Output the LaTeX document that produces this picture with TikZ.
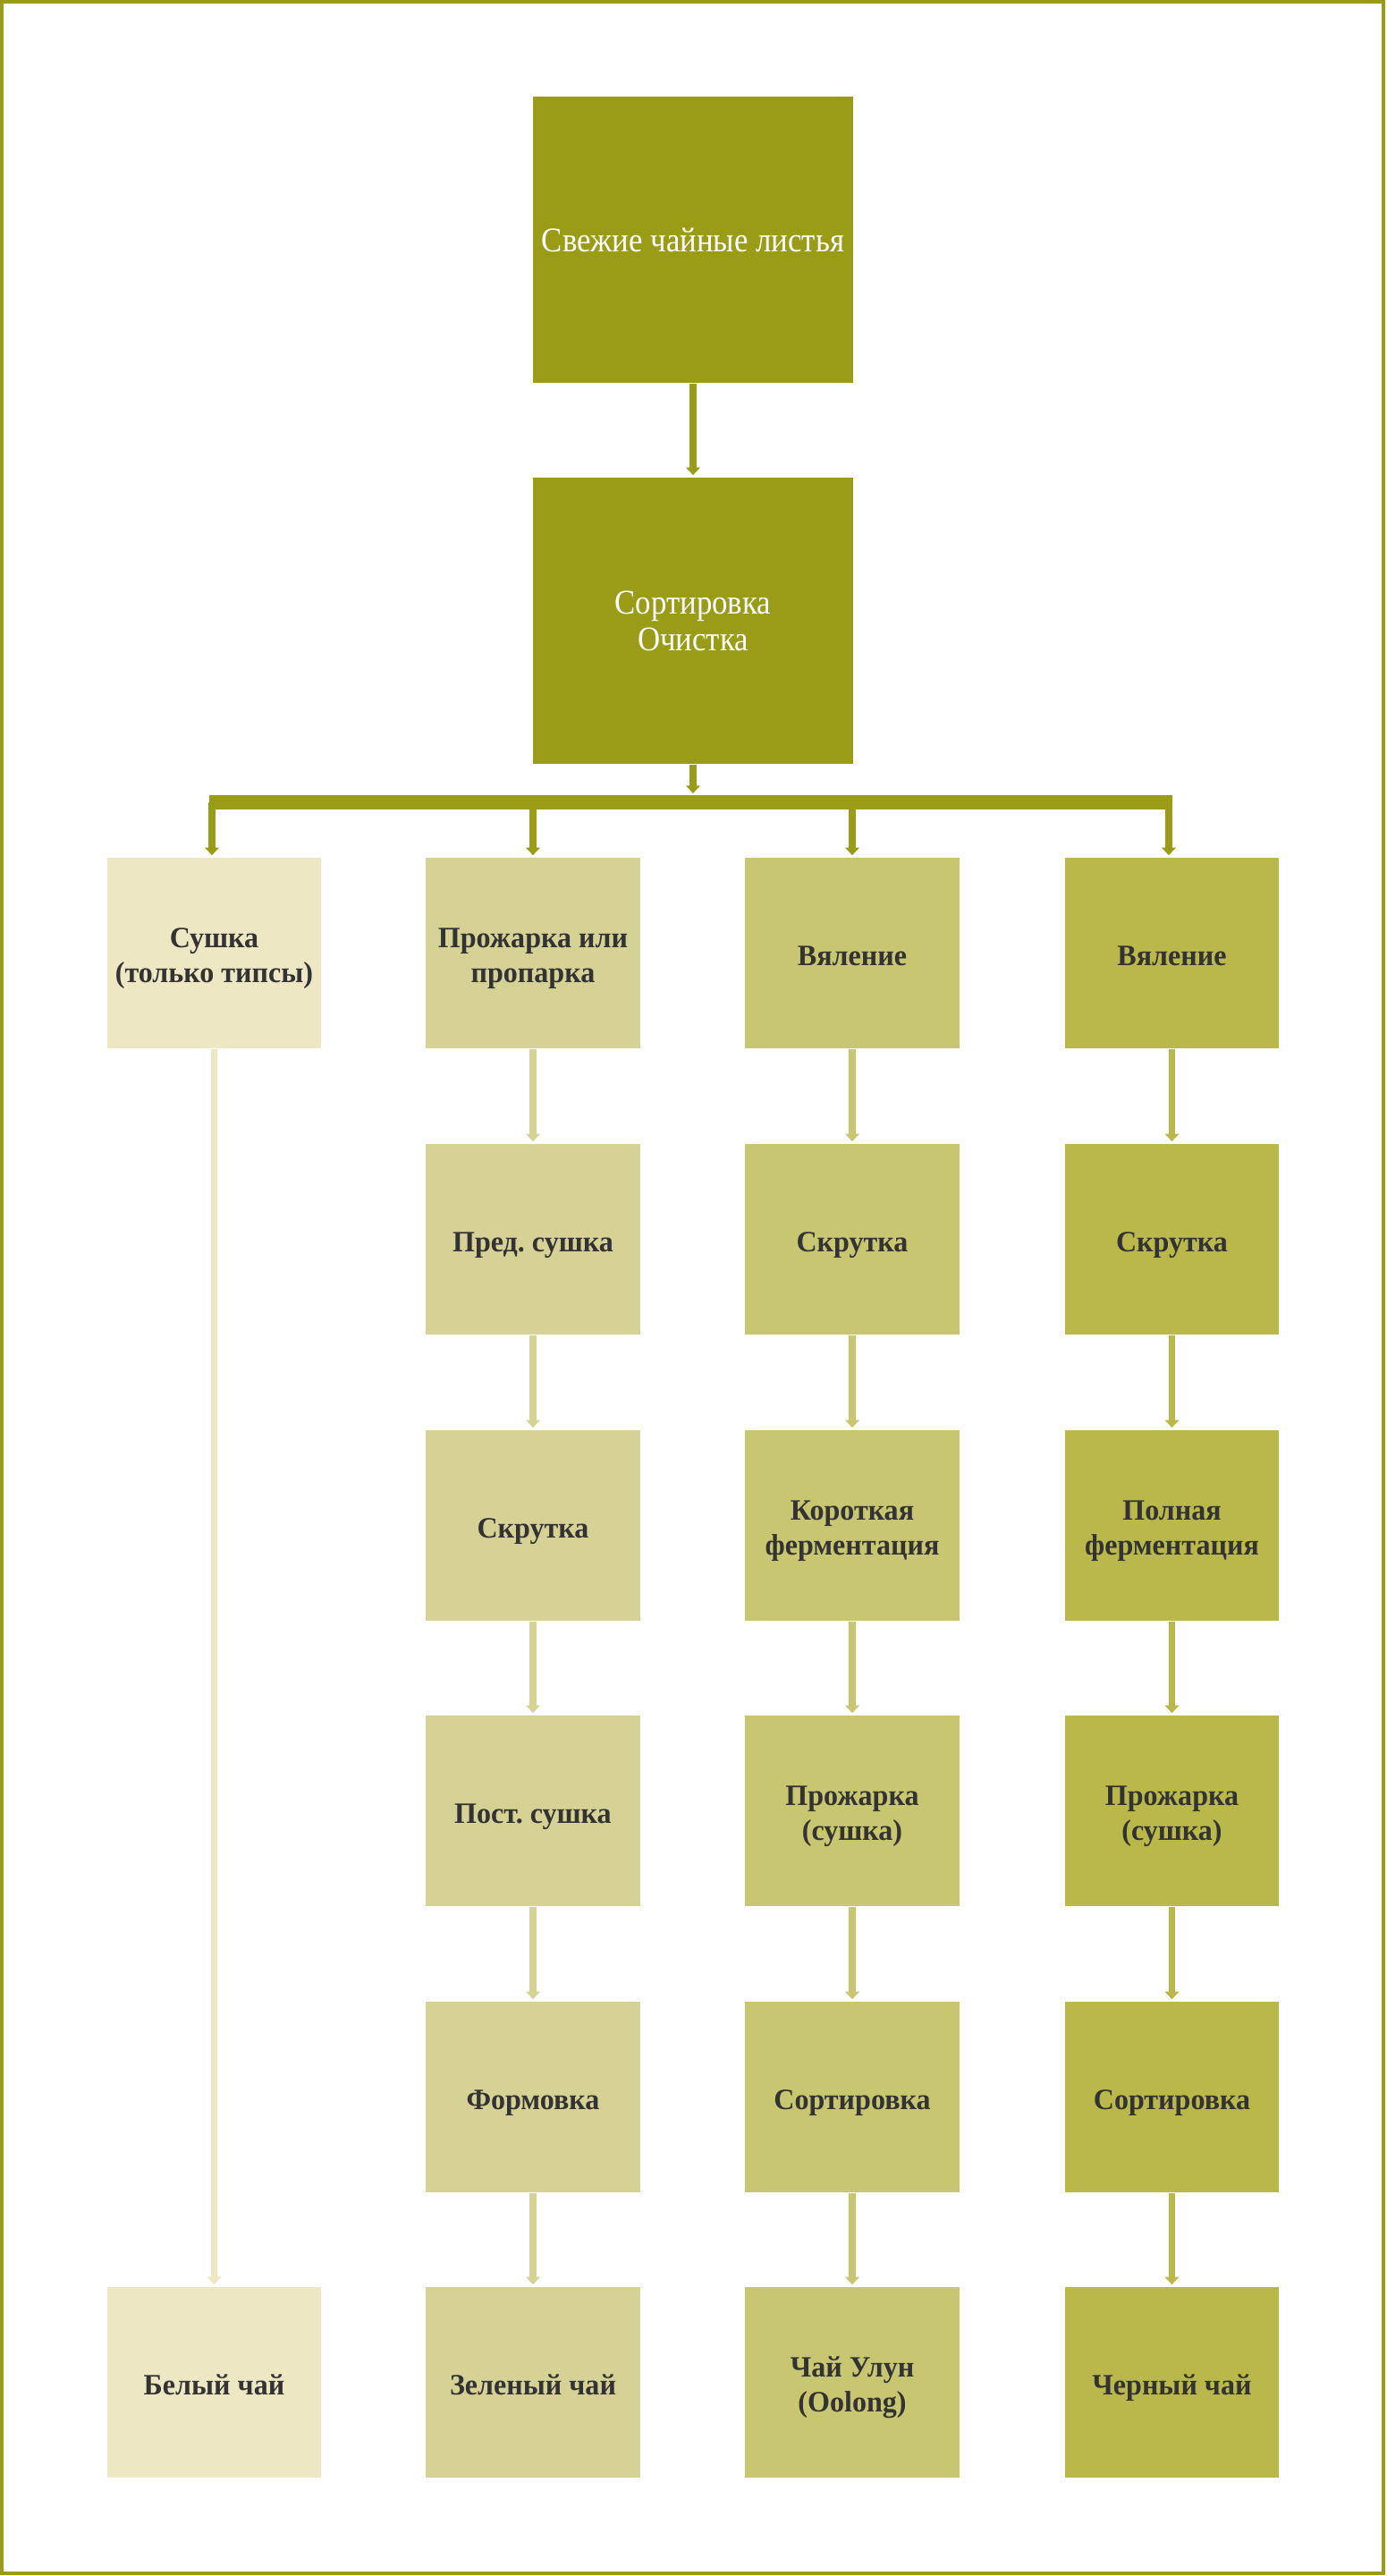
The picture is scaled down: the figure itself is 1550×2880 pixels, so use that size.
\documentclass[tikz,border=0pt]{standalone}
\usepackage{fontspec}
\setmainfont{Liberation Serif}
\newfontfamily\topfont{Liberation Serif}[FakeStretch=0.9]
\newfontfamily\colfont{Liberation Serif}[FakeStretch=0.97]
\frenchspacing
\usetikzlibrary{arrows.meta}
\definecolor{olive}{HTML}{9A9C17}
\definecolor{cA}{HTML}{EDE8C3}
\definecolor{cB}{HTML}{D6D296}
\definecolor{cC}{HTML}{C8C670}
\definecolor{cD}{HTML}{BAB84A}
\definecolor{txt}{HTML}{333333}
\newcommand\boxtext[1]{\raisebox{-1.7pt}[\height][\depth]{\begin{tabular}{@{}c@{}}#1\end{tabular}}}
\tikzset{
  topbox/.style={fill=olive, draw=none, minimum width=3.57cm, minimum height=3.20cm, text=white, align=center, inner sep=0pt, font=\topfont\fontsize{11pt}{11.7pt}\selectfont},
  colbox/.style={fill=#1, draw=none, minimum width=2.39cm, minimum height=2.13cm, text=txt, inner sep=0pt, font=\colfont\fontsize{9.4pt}{11.1pt}\selectfont\bfseries},
  arr/.style={draw=#1, line width=2pt, -{Triangle[width=4.4pt,length=2.4pt]}, shorten >=0.6pt},
}
\begin{document}
\begin{tikzpicture}[x=0.01cm,y=-0.01cm]
\useasboundingbox (0,0) rectangle (1550,2880);
\draw[olive, line width=0.9pt] (2,2) rectangle (1547,2877);
\node[topbox] (t1) at (775,268) {Свежие чайные листья};
\node[topbox] (t2) at (775,694) {Сортировка\\Очистка};
\draw[arr=olive] (t1.south) -- (t2.north);
% bar
\coordinate (bl) at (234,897);
\coordinate (br) at (1311,897);
\coordinate (bt) at (775,889);
\draw[olive, line width=4.55pt] (bl) -- (br);
\draw[arr=olive] (t2.south) -- (bt);
% rows
\def\rA{1065.5}\def\rB{1385.5}\def\rC{1705.5}\def\rD{2024.5}\def\rE{2344.5}\def\rF{2663.5}
% col 1
\node[colbox=cA] (a0) at (239.5,\rA) {\boxtext{Сушка\\(только типсы)}};
\node[colbox=cA] (a5) at (239.5,\rF) {\boxtext{Белый чай}};
% col 2
\node[colbox=cB] (b0) at (596,\rA) {\boxtext{Прожарка или\\пропарка}};
\node[colbox=cB] (b1) at (596,\rB) {\boxtext{Пред. сушка}};
\node[colbox=cB] (b2) at (596,\rC) {\boxtext{Скрутка}};
\node[colbox=cB] (b3) at (596,\rD) {\boxtext{Пост. сушка}};
\node[colbox=cB] (b4) at (596,\rE) {\boxtext{Формовка}};
\node[colbox=cB] (b5) at (596,\rF) {\boxtext{Зеленый чай}};
% col 3
\node[colbox=cC] (c0) at (953,\rA) {\boxtext{Вяление}};
\node[colbox=cC] (c1) at (953,\rB) {\boxtext{Скрутка}};
\node[colbox=cC] (c2) at (953,\rC) {\boxtext{Короткая\\ферментация}};
\node[colbox=cC] (c3) at (953,\rD) {\boxtext{Прожарка\\(сушка)}};
\node[colbox=cC] (c4) at (953,\rE) {\boxtext{Сортировка}};
\node[colbox=cC] (c5) at (953,\rF) {\boxtext{Чай Улун\\(Oolong)}};
% col 4
\node[colbox=cD] (d0) at (1310.5,\rA) {\boxtext{Вяление}};
\node[colbox=cD] (d1) at (1310.5,\rB) {\boxtext{Скрутка}};
\node[colbox=cD] (d2) at (1310.5,\rC) {\boxtext{Полная\\ферментация}};
\node[colbox=cD] (d3) at (1310.5,\rD) {\boxtext{Прожарка\\(сушка)}};
\node[colbox=cD] (d4) at (1310.5,\rE) {\boxtext{Сортировка}};
\node[colbox=cD] (d5) at (1310.5,\rF) {\boxtext{Черный чай}};
% legs from bar
\coordinate (l1) at (237,897);
\coordinate (l2) at (596,897);
\coordinate (l3) at (953,897);
\coordinate (l4) at (1307,897);
\draw[arr=olive] (l1) -- (l1 |- a0.north);
\draw[arr=olive] (l2) -- (l2 |- b0.north);
\draw[arr=olive] (l3) -- (l3 |- c0.north);
\draw[arr=olive] (l4) -- (l4 |- d0.north);
% column arrows
\draw[arr=cA] (a0.south) -- (a5.north);
\foreach \i/\j in {0/1,1/2,2/3,3/4,4/5}{
  \draw[arr=cB] (b\i.south) -- (b\j.north);
  \draw[arr=cC] (c\i.south) -- (c\j.north);
  \draw[arr=cD] (d\i.south) -- (d\j.north);
}
\end{tikzpicture}
\end{document}
